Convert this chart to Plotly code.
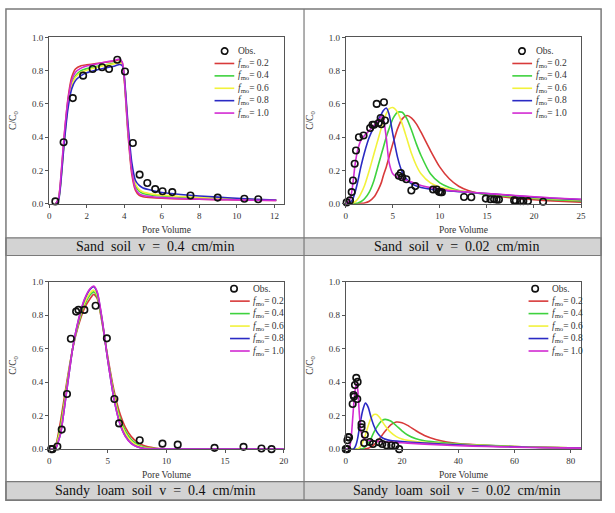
import plotly.graph_objects as go

W, H = 615, 513

# ---------------- data ----------------
f_labels = ["0.2", "0.4", "0.6", "0.8", "1.0"]
captions = ["Sand\u00a0 soil\u00a0 v\u00a0 =\u00a0 0.4\u00a0 cm/min",
            "Sand\u00a0 soil\u00a0 v\u00a0 =\u00a0 0.02\u00a0 cm/min",
            "Sandy\u00a0 loam\u00a0 soil\u00a0 v\u00a0 =\u00a0 0.4\u00a0 cm/min",
            "Sandy\u00a0 loam\u00a0 soil\u00a0 v\u00a0 =\u00a0 0.02\u00a0 cm/min"]

# Panel 1: Sand soil v = 0.4 cm/min
p1_obs_x = [0.33, 0.77, 1.26, 1.81, 2.32, 2.82, 3.19, 3.63, 4.04, 4.46, 4.82, 5.23, 5.65, 6.04, 6.56, 7.53, 8.98, 10.4, 11.14]
p1_obs_y = [0.014, 0.37, 0.635, 0.77, 0.81, 0.82, 0.81, 0.865, 0.795, 0.365, 0.175, 0.125, 0.088, 0.075, 0.07, 0.05, 0.037, 0.03, 0.027]
p1_x = [0.35, 0.5, 0.6, 0.8, 1.0, 1.2, 1.4, 1.7, 2.0, 2.5, 3.0, 3.5, 3.75, 3.9, 4.0, 4.2, 4.4, 4.6, 4.8, 5.0, 5.5, 6.0, 7.0, 8.0, 9.0, 10.0, 11.0, 12.1]
p1_f02 = [0, 0.03, 0.12, 0.4, 0.63, 0.76, 0.81, 0.83, 0.835, 0.842, 0.85, 0.858, 0.865, 0.845, 0.75, 0.42, 0.18, 0.08, 0.05, 0.042, 0.036, 0.033, 0.029, 0.027, 0.025, 0.023, 0.021, 0.02]
p1_f04 = [0, 0.025, 0.11, 0.38, 0.6, 0.72, 0.77, 0.8, 0.812, 0.825, 0.835, 0.845, 0.85, 0.835, 0.76, 0.45, 0.21, 0.11, 0.075, 0.062, 0.052, 0.047, 0.04, 0.035, 0.031, 0.027, 0.024, 0.021]
p1_f06 = [0, 0.025, 0.11, 0.37, 0.59, 0.71, 0.76, 0.79, 0.803, 0.818, 0.832, 0.842, 0.848, 0.835, 0.76, 0.46, 0.22, 0.12, 0.085, 0.07, 0.058, 0.052, 0.044, 0.038, 0.033, 0.029, 0.025, 0.022]
p1_f08 = [0, 0.02, 0.1, 0.36, 0.57, 0.69, 0.74, 0.77, 0.787, 0.803, 0.816, 0.828, 0.837, 0.83, 0.77, 0.48, 0.25, 0.14, 0.11, 0.095, 0.08, 0.068, 0.056, 0.047, 0.04, 0.033, 0.027, 0.022]
p1_f10 = [0, 0.03, 0.13, 0.41, 0.62, 0.74, 0.79, 0.815, 0.828, 0.84, 0.852, 0.863, 0.87, 0.85, 0.76, 0.44, 0.2, 0.09, 0.06, 0.05, 0.042, 0.037, 0.031, 0.028, 0.025, 0.023, 0.021, 0.02]

# Panel 2: Sand soil v = 0.02 cm/min
p2_obs_x = [0.1, 0.45, 0.63, 0.77, 0.95, 1.09, 1.4, 1.89, 2.59, 2.84, 3.01, 3.29, 3.5, 3.71, 3.78, 4.06, 4.17,
            5.64, 5.85, 5.99, 6.44, 6.97, 7.39, 9.28, 9.66, 9.91, 10.08, 10.22, 12.57, 13.34, 14.88, 15.37, 15.76,
            16.04, 16.28, 17.89, 18.07, 18.56, 18.87, 19.36, 20.97]
p2_obs_y = [0.008, 0.02, 0.07, 0.14, 0.24, 0.32, 0.4, 0.41, 0.455, 0.475, 0.475, 0.6, 0.485, 0.515, 0.478, 0.61, 0.5,
            0.168, 0.184, 0.159, 0.147, 0.08, 0.106, 0.086, 0.086, 0.072, 0.069, 0.069, 0.041, 0.039, 0.031, 0.027, 0.027,
            0.025, 0.025, 0.02, 0.018, 0.016, 0.016, 0.016, 0.012]
p2_x = [0, 0.3, 0.6, 0.8, 1.0, 1.3, 1.6, 2.0, 2.5, 3.0, 3.5, 3.8, 4.0, 4.3, 4.6, 5.0, 5.5, 6.0, 6.5, 7.0, 7.5, 8.0,
        9.0, 10.0, 11.0, 12.0, 13.0, 14.0, 16.0, 18.0, 20.0, 22.0, 25.0]
p2_f02 = [0, 0, 0, 0, 0, 0, 0.002, 0.005, 0.015, 0.04, 0.09, 0.13, 0.17, 0.22, 0.28, 0.36, 0.45, 0.51, 0.53, 0.515, 0.48, 0.43,
          0.32, 0.22, 0.15, 0.105, 0.08, 0.065, 0.047, 0.033, 0.024, 0.017, 0.01]
p2_f04 = [0, 0, 0, 0, 0.002, 0.005, 0.012, 0.03, 0.07, 0.14, 0.24, 0.3, 0.34, 0.4, 0.45, 0.51, 0.55, 0.55, 0.51, 0.44, 0.36, 0.29,
          0.18, 0.125, 0.097, 0.08, 0.07, 0.063, 0.05, 0.04, 0.032, 0.025, 0.017]
p2_f06 = [0, 0, 0.002, 0.006, 0.012, 0.03, 0.06, 0.11, 0.2, 0.3, 0.4, 0.46, 0.5, 0.54, 0.57, 0.578, 0.55, 0.48, 0.39, 0.3, 0.23, 0.18,
          0.125, 0.1, 0.087, 0.078, 0.071, 0.066, 0.055, 0.045, 0.037, 0.03, 0.022]
p2_f08 = [0, 0.002, 0.015, 0.035, 0.07, 0.14, 0.22, 0.31, 0.4, 0.46, 0.51, 0.54, 0.56, 0.575, 0.54, 0.42, 0.28, 0.19, 0.145, 0.12, 0.107, 0.098,
          0.088, 0.082, 0.077, 0.073, 0.069, 0.065, 0.057, 0.048, 0.04, 0.033, 0.025]
p2_f10 = [0, 0.01, 0.06, 0.14, 0.24, 0.33, 0.38, 0.41, 0.44, 0.47, 0.5, 0.525, 0.51, 0.4, 0.25, 0.18, 0.16, 0.15, 0.14, 0.13, 0.12, 0.11,
          0.097, 0.088, 0.08, 0.075, 0.07, 0.066, 0.058, 0.05, 0.042, 0.035, 0.027]

# Panel 3: Sandy loam soil v = 0.4 cm/min
p3_obs_x = [0.17, 0.28, 0.7, 1.07, 1.52, 1.85, 2.3, 2.5, 3.0, 3.96, 4.92, 5.56, 5.96, 7.72, 9.66, 10.96, 14.1, 16.57, 18.1, 18.96]
p3_obs_y = [0.0, 0.0, 0.016, 0.117, 0.33, 0.66, 0.822, 0.832, 0.832, 0.857, 0.662, 0.3, 0.154, 0.053, 0.033, 0.027, 0.008, 0.014, 0.004, 0.0]
p3_x = [0, 0.4, 0.6, 0.8, 1.0, 1.5, 2.0, 2.5, 3.0, 3.5, 3.8, 4.1, 4.5, 5.0, 5.5, 6.0, 6.5, 7.0, 7.5, 8.0, 9.0, 10.0, 11.0, 20.0]
p3_f02 = [0, 0, 0.03, 0.1, 0.18, 0.4, 0.6, 0.74, 0.84, 0.9, 0.925, 0.9, 0.76, 0.55, 0.36, 0.22, 0.13, 0.075, 0.042, 0.023, 0.007, 0.002, 0, 0]
p3_f04 = [0, 0, 0.02, 0.08, 0.15, 0.38, 0.6, 0.75, 0.86, 0.922, 0.94, 0.91, 0.77, 0.54, 0.34, 0.195, 0.11, 0.058, 0.03, 0.015, 0.004, 0.001, 0, 0]
p3_f06 = [0, 0, 0.015, 0.07, 0.13, 0.37, 0.6, 0.76, 0.87, 0.935, 0.95, 0.92, 0.775, 0.535, 0.33, 0.18, 0.095, 0.047, 0.022, 0.01, 0.002, 0, 0, 0]
p3_f08 = [0, 0, 0.01, 0.05, 0.1, 0.35, 0.6, 0.77, 0.89, 0.955, 0.97, 0.935, 0.78, 0.53, 0.31, 0.16, 0.078, 0.035, 0.015, 0.006, 0.001, 0, 0, 0]
p3_f10 = [0, 0, 0.01, 0.05, 0.1, 0.35, 0.6, 0.775, 0.895, 0.96, 0.975, 0.94, 0.785, 0.53, 0.31, 0.158, 0.075, 0.033, 0.014, 0.005, 0.001, 0, 0, 0]

# Panel 4: Sandy loam soil v = 0.02 cm/min
p4_obs_x = [0, 0.5, 0.6, 0.94, 1.17, 2.46, 2.8, 2.93, 3.28, 3.75, 4.22, 4.1, 5.62, 5.62, 6.8, 6.56, 8.55, 9.7, 11.9, 13.0, 14.5, 16.2, 17.6, 19.0]
p4_obs_y = [0, 0, 0.053, 0.072, 0.07, 0.27, 0.324, 0.314, 0.383, 0.426, 0.402, 0.3, 0.15, 0.13, 0.086, 0.037, 0.043, 0.031, 0.041, 0.031, 0.023, 0.023, 0.02, 0]
p4_x = [0, 1, 1.5, 2, 2.5, 3, 3.5, 3.9, 4.3, 4.8, 5.3, 6, 7, 8, 9, 10, 11, 12, 13, 14, 16, 18, 20, 22, 25, 28, 32, 36, 40, 50, 60, 70, 84]
p4_f02 = [0, 0, 0, 0, 0, 0, 0, 0, 0, 0, 0, 0, 0.002, 0.006, 0.014, 0.026, 0.042, 0.062, 0.085, 0.107, 0.145, 0.162, 0.158, 0.142, 0.11,
          0.082, 0.058, 0.043, 0.034, 0.023, 0.016, 0.011, 0.006]
p4_f04 = [0, 0, 0, 0, 0, 0, 0, 0, 0, 0, 0, 0.003, 0.015, 0.035, 0.065, 0.1, 0.13, 0.155, 0.172, 0.178, 0.168, 0.14, 0.11, 0.085, 0.062,
          0.05, 0.042, 0.036, 0.031, 0.023, 0.016, 0.011, 0.007]
p4_f06 = [0, 0, 0, 0, 0, 0, 0, 0, 0.002, 0.008, 0.018, 0.04, 0.085, 0.14, 0.185, 0.207, 0.207, 0.19, 0.165, 0.14, 0.1, 0.075, 0.061, 0.053, 0.046,
          0.041, 0.036, 0.032, 0.028, 0.021, 0.015, 0.011, 0.007]
p4_f08 = [0, 0, 0, 0, 0, 0.005, 0.02, 0.04, 0.07, 0.12, 0.17, 0.23, 0.275, 0.25, 0.19, 0.14, 0.105, 0.082, 0.068, 0.06, 0.052, 0.048, 0.045, 0.043, 0.04,
          0.037, 0.033, 0.029, 0.026, 0.019, 0.014, 0.01, 0.007]
p4_f10 = [0, 0, 0.02, 0.08, 0.19, 0.3, 0.37, 0.39, 0.35, 0.22, 0.12, 0.075, 0.058, 0.052, 0.05, 0.048, 0.047, 0.046, 0.045, 0.044, 0.042, 0.04, 0.038,
          0.036, 0.033, 0.03, 0.027, 0.024, 0.021, 0.016, 0.012, 0.009, 0.006]

x_ranges = [[0, 12.5], [0, 25], [0, 20], [0, 83.7]]
x_dticks = [2, 5, 5, 20]

# ---------------- styling ----------------
colors = ["#d83a3a", "#3ed23e", "#f2f23c", "#2a2ac4", "#d22ad2"]
SERIF = "Liberation Serif, Times New Roman, serif"
AX = "#555555"
GRID = "#7a7a7a"

def px_x(p):
    return p / W

def px_y(p):
    return 1 - p / H

# plot-area pixel boxes (left, right, top, bottom)
boxes = [(47.7, 285.0, 33.0, 202.7), (347.7, 585.7, 33.0, 202.7),
         (47.7, 285.0, 282.3, 453.0), (347.7, 585.7, 282.3, 453.0)]

panels = [
    (p1_obs_x, p1_obs_y, p1_x, [p1_f02, p1_f04, p1_f06, p1_f08, p1_f10]),
    (p2_obs_x, p2_obs_y, p2_x, [p2_f02, p2_f04, p2_f06, p2_f08, p2_f10]),
    (p3_obs_x, p3_obs_y, p3_x, [p3_f02, p3_f04, p3_f06, p3_f08, p3_f10]),
    (p4_obs_x, p4_obs_y, p4_x, [p4_f02, p4_f04, p4_f06, p4_f08, p4_f10]),
]

# legend placement per panel in axis-domain units: (marker x, line x0, line x1, text x, top row y, row step)
legend_pos = [(0.748, 0.705, 0.789, 0.797, 0.9175, 0.0745),
              (0.749, 0.708, 0.792, 0.800, 0.9175, 0.0745),
              (0.788, 0.771, 0.855, 0.862, 0.959, 0.0745),
              (0.805, 0.777, 0.861, 0.866, 0.959, 0.0745)]

fig = go.Figure()
layout = dict(width=W, height=H, margin=dict(l=0, r=0, t=0, b=0),
              paper_bgcolor="white", plot_bgcolor="white", showlegend=False)
shapes = []
annotations = []

for i, (ox, oy, cx, curves) in enumerate(panels):
    n = "" if i == 0 else str(i + 1)
    xa, ya = "x" + n, "y" + n
    for k, yy in enumerate(curves):
        fig.add_trace(go.Scatter(x=cx, y=yy, mode="lines", xaxis=xa, yaxis=ya,
                                 line=dict(color=colors[k], width=1.6, shape="spline", smoothing=0.6),
                                 name="f_mo = " + f_labels[k]))
    fig.add_trace(go.Scatter(x=ox, y=oy, mode="markers", xaxis=xa, yaxis=ya, cliponaxis=False,
                             marker=dict(symbol="circle-open", size=6.5, color="#111111",
                                         line=dict(width=1.6, color="#111111")),
                             name="Obs."))
    l, r, t, b = boxes[i]
    common = dict(showline=True, linecolor=AX, linewidth=1, mirror=True, ticks="outside", ticklen=3,
                  tickcolor=AX, tickwidth=1, showgrid=False, zeroline=False,
                  tickfont=dict(family=SERIF, size=9, color="#333333"))
    layout["xaxis" + n] = dict(common, domain=[px_x(l), px_x(r)], anchor=ya, range=x_ranges[i],
                               dtick=x_dticks[i], tick0=0,
                               title=dict(text="Pore Volume", font=dict(family=SERIF, size=9.5, color="#333333"),
                                          standoff=6))
    layout["yaxis" + n] = dict(common, domain=[px_y(b), px_y(t)], anchor=xa, range=[0, 1],
                               dtick=0.2, tickformat=".1f",
                               title=dict(text="C/C<sub>0</sub>", font=dict(family=SERIF, size=9.5, color="#333333"),
                                          standoff=13))
    # in-plot legend
    mx, lx0, lx1, tx, ty, step = legend_pos[i]
    xr, yr = xa + " domain", ya + " domain"
    shapes.append(dict(type="circle", xref=xr, yref=yr, xsizemode="pixel", ysizemode="pixel",
                       xanchor=mx, yanchor=ty, x0=-3.2, x1=3.2, y0=-3.2, y1=3.2,
                       line=dict(color="#111111", width=1.6)))
    annotations.append(dict(x=tx, y=ty, xref=xr, yref=yr, text="Obs.", showarrow=False, xanchor="left",
                            yanchor="middle", font=dict(family=SERIF, size=9.5, color="#333333")))
    for k in range(5):
        yk = ty - step * (k + 1)
        shapes.append(dict(type="line", xref=xr, yref=yr, x0=lx0, x1=lx1, y0=yk, y1=yk,
                           line=dict(color=colors[k], width=1.6)))
        annotations.append(dict(x=tx, y=yk, xref=xr, yref=yr,
                                text="<i>f</i><sub>mo</sub>= " + f_labels[k], showarrow=False,
                                xanchor="left", yanchor="middle",
                                font=dict(family=SERIF, size=9.5, color="#333333")))

# table frame and caption bands
L, R, T, B, MID = 4, 606, 4, 505, 305.5
bands = [(237.5, 255.5), (486, 505)]
for (t0, t1) in bands:
    shapes.append(dict(type="rect", xref="paper", yref="paper", x0=px_x(L), x1=px_x(R), y0=px_y(t1), y1=px_y(t0),
                       fillcolor="#d3d3d3", line=dict(color=GRID, width=1.2), layer="below"))
shapes.append(dict(type="rect", xref="paper", yref="paper", x0=px_x(L), x1=px_x(R), y0=px_y(B), y1=px_y(T),
                   line=dict(color=GRID, width=1.5)))
shapes.append(dict(type="line", xref="paper", yref="paper", x0=px_x(MID), x1=px_x(MID), y0=px_y(B), y1=px_y(T),
                   line=dict(color=GRID, width=1.2)))

cap_pos = [((L + MID) / 2, 246.5), ((MID + R) / 2 + 4, 246.5), ((L + MID) / 2, 495.5), ((MID + R) / 2 + 4, 495.5)]
for i, (cxp, cyp) in enumerate(cap_pos):
    annotations.append(dict(x=px_x(cxp), y=px_y(cyp), xref="paper", yref="paper", text=captions[i],
                            showarrow=False, xanchor="center", yanchor="middle",
                            font=dict(family=SERIF, size=14, color="#111111")))

layout["shapes"] = shapes
layout["annotations"] = annotations
fig.update_layout(**layout)
fig.write_html("out.html", config={"displayModeBar": False},
               post_script="document.body.style.margin='0';document.body.style.overflow='hidden';")
